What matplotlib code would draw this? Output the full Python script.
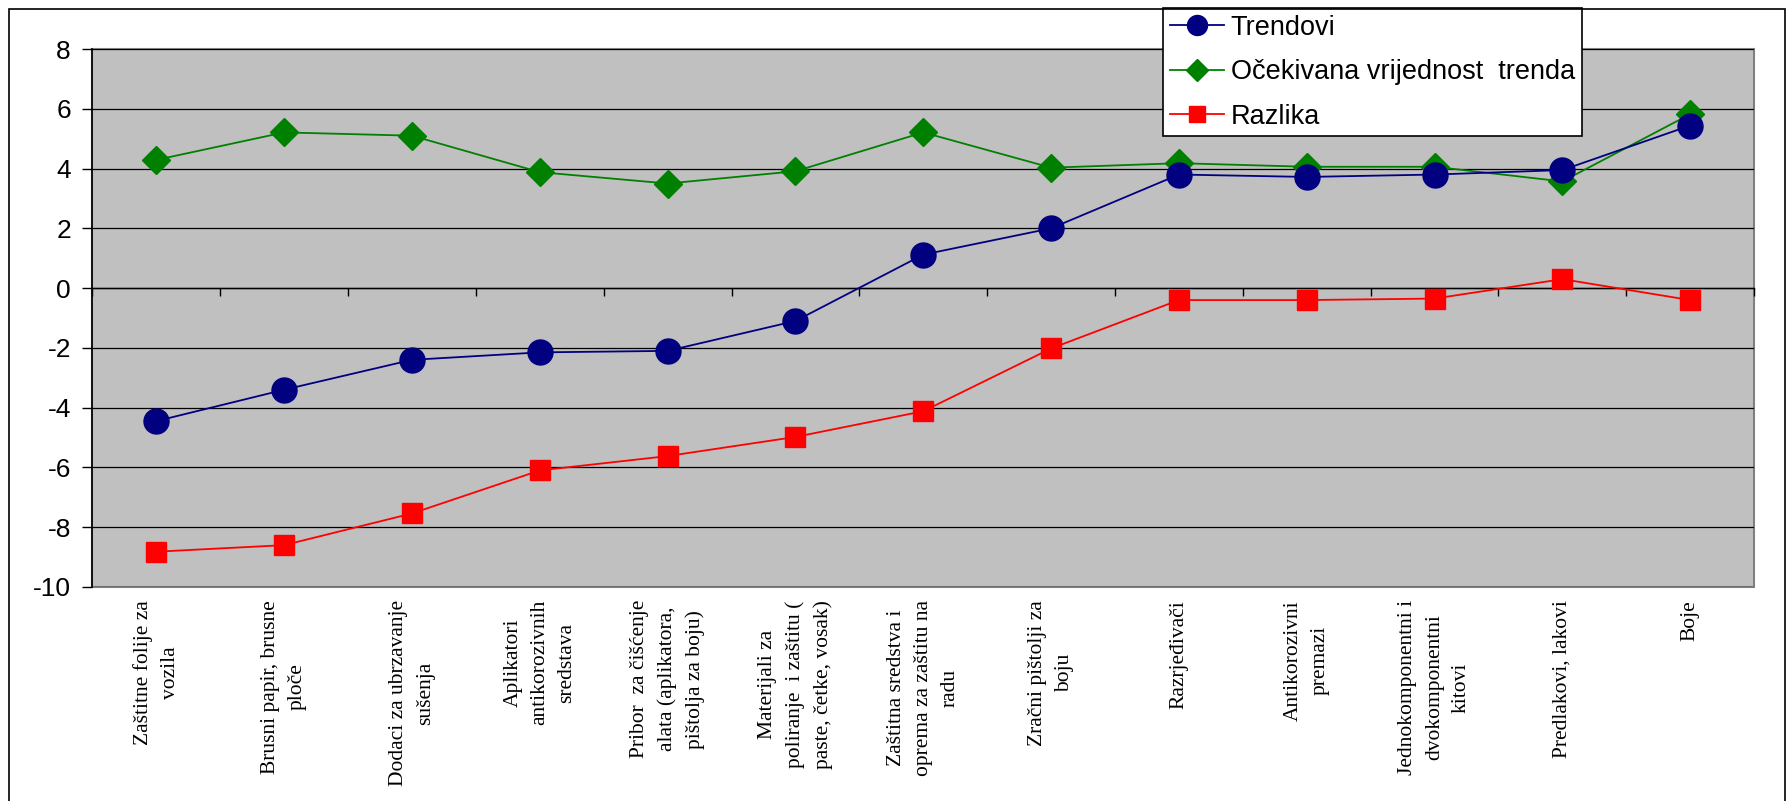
import matplotlib
matplotlib.use('Agg')
from matplotlib import pyplot as plt
from matplotlib.patches import Rectangle

plt.rcParams['axes.unicode_minus'] = False
plt.rcParams['font.family'] = ['Liberation Sans', 'DejaVu Sans']

# kategorije proizvoda
kategorije = [
    'Zaštitne folije za\nvozila',
    'Brusni papir, brusne\nploče',
    'Dodaci za ubrzavanje\nsušenja',
    'Aplikatori\nantikorozivnih\nsredstava',
    'Pribor  za čišćenje\nalata (aplikatora,\npištolja za boju)',
    'Materijali za\npoliranje  i zaštitu (\npaste, četke, vosak)',
    'Zaštitna sredstva i\noprema za zaštitu na\nradu',
    'Zračni pištolji za\nboju',
    'Razrjeđivači',
    'Antikorozivni\npremazi',
    'Jednokomponentni i\ndvokomponentni\nkitovi',
    'Predlakovi, lakovi',
    'Boje',
]

trendovi = [-4.45, -3.4, -2.4, -2.15, -2.1, -1.1, 1.12, 2.0, 3.8, 3.72, 3.8, 3.95, 5.44]
ocekivana = [4.29, 5.21, 5.1, 3.88, 3.5, 3.91, 5.21, 4.03, 4.18, 4.06, 4.06, 3.57, 5.82]
razlika = [-8.82, -8.6, -7.54, -6.1, -5.62, -4.98, -4.12, -2.02, -0.4, -0.4, -0.35, 0.3, -0.4]

y_ticks = list(range(-10, 9, 2))

fig = plt.figure(figsize=(17.91, 8.01), dpi=100)
ax = fig.add_axes([0.0516, 0.2672, 0.9278, 0.6716])

x = list(range(len(kategorije)))

ax.plot(x, trendovi, color='#000080', linewidth=1.3, marker='o', markersize=18,
        label='Trendovi', zorder=4)
ax.plot(x, ocekivana, color='#008000', linewidth=1.3, marker='D', markersize=14,
        label='Očekivana vrijednost  trenda', zorder=3)
ax.plot(x, razlika, color='#FF0000', linewidth=1.3, marker='s', markersize=15,
        label='Razlika', zorder=3)

# siva pozadina i okvir podrucja grafa
ax.set_facecolor('#C0C0C0')
ax.patch.set_edgecolor('#808080')
ax.patch.set_linewidth(1.5)
ax.set_xlim(-0.5, len(kategorije) - 0.5)
ax.set_ylim(-10, 8)
ax.set_yticks(y_ticks)
ax.yaxis.grid(True, color='black', linewidth=0.9)
ax.set_axisbelow(True)
ax.tick_params(axis='y', labelsize=19, length=7, width=1, pad=8.5)

ax.spines['top'].set_visible(False)
ax.spines['right'].set_visible(False)
ax.spines['left'].set_linewidth(1.2)
# os kategorija prolazi kroz nulu
ax.spines['bottom'].set_position(('data', 0))
ax.spines['bottom'].set_linewidth(1)
ax.set_xticks([i + 0.5 for i in range(-1, len(kategorije))])
ax.tick_params(axis='x', direction='out', length=6, width=1, labelbottom=False)

for i, naziv in enumerate(kategorije):
    ax.text(i, -0.024, naziv, transform=ax.get_xaxis_transform(), rotation=90,
            ha='center', va='top', multialignment='center', fontsize=15.5,
            family=['Liberation Serif', 'DejaVu Serif'], linespacing=1.55)

leg = ax.legend(loc='upper left', bbox_to_anchor=(0.6494, 0.990),
                bbox_transform=fig.transFigure, fontsize=19.5, frameon=True,
                fancybox=False, framealpha=1, edgecolor='black',
                handlelength=2.0, handletextpad=0.25, labelspacing=0.68,
                borderpad=0.25, borderaxespad=0, markerscale=0.8)
leg.get_frame().set_linewidth(1.2)
leg.set_zorder(10)

# vanjski okvir grafikona
fig.patches.append(Rectangle((9 / 1791, -0.02), (1785 - 9) / 1791, 1.02 - 9 / 801,
                             transform=fig.transFigure, fill=False,
                             edgecolor='black', linewidth=1.2))

plt.savefig('out.png', dpi=100)
